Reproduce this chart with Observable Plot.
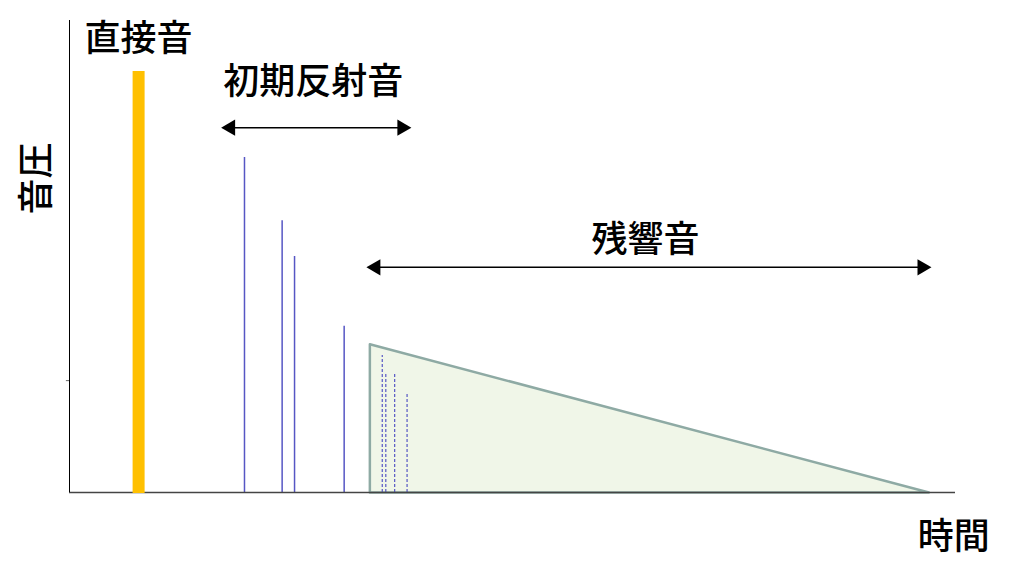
<!DOCTYPE html>
<html>
<head>
<meta charset="utf-8">
<script src="https://cdn.jsdelivr.net/npm/d3@7"></script>
<script src="https://cdn.jsdelivr.net/npm/@observablehq/plot@0.6"></script>
<style>
  html, body { margin: 0; padding: 0; background: #fff; }
  #chart svg { display: block; }
</style>
</head>
<body>
<div id="chart"></div>
<script>
// Time axis: 0..100 (arbitrary units), pressure axis: 0..100
const directTime = [7.8];
const directLevel = [89.4];

const reflectTimes = [19.75, 24.0, 25.4, 31.0];
const reflectLevels = [71.0, 57.6, 50.0, 35.2];

const lateTimes = [35.3, 35.7, 36.7, 38.1];
const lateLevels = [29.0, 25.2, 25.2, 20.8];

const reverbTimes = [33.9, 33.9, 97.0, 33.9];
const reverbLevels = [0, 31.4, 0, 0];

const labelText = ["直接音", "初期反射音", "残響音"];
const labelTime = [7.8, 27.5, 65.0];
const labelLevel = [96.0, 86.9, 53.4];

const arrowStart = [17.6, 34.0];
const arrowEnd = [38.1, 96.8];
const arrowLevel = [77.3, 47.7];

const xTitle = "時間";
const xTitleTime = 99.8;
const xTitleLevel = -9.5;
const yTitle = "音圧";
const yTitleTime = -3.56;
const yTitleLevel = 66.5;

const tickLevels = [23.7];

const direct = directTime.map((t, i) => ({t, p: directLevel[i]}));
const reflections = reflectTimes.map((t, i) => ({t, p: reflectLevels[i]}));
const late = lateTimes.map((t, i) => ({t, p: lateLevels[i]}));
const reverb = reverbTimes.map((t, i) => ({t, p: reverbLevels[i]}));
const labels = labelText.map((s, i) => ({s, t: labelTime[i], p: labelLevel[i]}));
const arrows = arrowStart.map((a, i) => ({a, b: arrowEnd[i], p: arrowLevel[i]}));

const font = "'Noto Sans CJK JP', 'Noto Sans', sans-serif";
const reflColor = "#5656C4";

const chart = Plot.plot({
  width: 1014,
  height: 579,
  marginLeft: 69,
  marginRight: 59,
  marginTop: 20,
  marginBottom: 87,
  x: {domain: [0, 100], axis: null},
  y: {domain: [0, 100], axis: null},
  style: {background: "#fff", fontFamily: font},
  marks: [
    // reverberation triangle
    Plot.areaY(reverb, {x: "t", y: "p", fill: "#F0F6E8"}),
    Plot.line(reverb, {x: "t", y: "p", stroke: "#8EAAA4", strokeWidth: 2.5}),
    // late dashed reflections
    Plot.ruleX(late, {x: "t", y1: 0, y2: "p", stroke: reflColor, strokeWidth: 1.2, strokeDasharray: "3,2"}),
    // early reflections
    Plot.ruleX(reflections, {x: "t", y1: 0, y2: "p", stroke: reflColor, strokeWidth: 1.5}),
    // axes
    Plot.ruleY([0], {stroke: "#444", strokeWidth: 1.5}),
    Plot.ruleX([0], {y1: 0, y2: 100, stroke: "#000", strokeWidth: 1}),
    Plot.ruleY(tickLevels, {x1: -0.35, x2: 0, stroke: "#666", strokeWidth: 1}),
    // direct sound
    Plot.ruleX(direct, {x: "t", y1: 0, y2: "p", stroke: "#FFC000", strokeWidth: 12, dy: 1}),
    // arrows
    Plot.ruleY(arrows, {x1: "a", x2: "b", y: "p", stroke: "#000", strokeWidth: 1.5}),
    Plot.dot(arrows, {x: "a", y: "p", symbol: "triangle", r: 6, fill: "#000", rotate: -90, dx: 5}),
    Plot.dot(arrows, {x: "b", y: "p", symbol: "triangle", r: 6, fill: "#000", rotate: 90, dx: -5}),
    // labels
    Plot.text(labels, {x: "t", y: "p", text: "s", fontSize: 36, fontWeight: 500, fill: "#000", fontFamily: font}),
    Plot.text([xTitle], {x: xTitleTime, y: xTitleLevel, text: d => d, fontSize: 36, fontWeight: 500, fill: "#000", fontFamily: font}),
    Plot.text([yTitle], {x: yTitleTime, y: yTitleLevel, text: d => d, fontSize: 36, fontWeight: 500, rotate: -90, fill: "#000", fontFamily: font})
  ]
});
document.getElementById("chart").append(chart);
</script>
</body>
</html>
